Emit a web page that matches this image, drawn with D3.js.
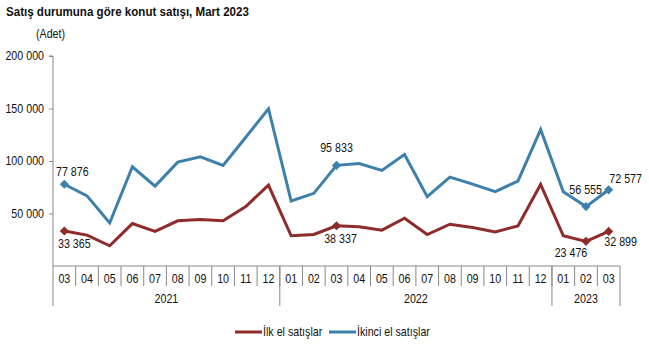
<!DOCTYPE html>
<html><head><meta charset="utf-8">
<script src="https://cdn.jsdelivr.net/npm/d3@7"></script>
<style>body{margin:0;background:#fff;} text{font-family:"Liberation Sans",Arial,sans-serif;}</style>
</head><body>
<svg id="c" width="649" height="345"></svg>
<script>
const months = ["03","04","05","06","07","08","09","10","11","12","01","02","03","04","05","06","07","08","09","10","11","12","01","02","03"];
const years = [{label:"2021", n:10},{label:"2022", n:12},{label:"2023", n:3}];
const ilkEl = [33365,29400,19300,40400,32900,43000,44200,43000,56600,77100,28800,30000,38337,37300,34100,45500,30000,39800,36700,32500,38200,77700,28800,23476,32899];
const ikinciEl = [77876,66800,41000,94500,76100,98900,104000,95700,122600,149800,61900,69200,95833,97600,91000,106200,66000,84700,78000,70800,80900,129900,70800,56555,72577];
const yTicks = [50000,100000,150000,200000];
const labeledIdx = [0,12,23,24];
const ilkLabels = [{i:0,dx:10,dy:17,anchor:"middle"},{i:12,dx:4,dy:17,anchor:"middle"},{i:23,dx:-15,dy:16,anchor:"middle"},{i:24,dx:12,dy:15,anchor:"middle"}];
const ikinciLabels = [{i:0,dx:8,dy:-8,anchor:"middle"},{i:12,dx:0,dy:-13,anchor:"middle"},{i:23,dx:16,dy:-13,anchor:"end"},{i:24,dx:17,dy:-7,anchor:"middle"}];
const fmt = v => d3.format(",")(v).replace(/,/g," ");

const svg = d3.select("#c");
const L = 53, R = 620, T = 56, B = 266;
const x = d3.scaleBand().domain(d3.range(months.length)).range([L,R]);
const y = d3.scaleLinear().domain([0,200000]).range([B,T]);
const red = "#8E2B2B", blue = "#3D80AB";
const SX = 0.89;

function txt(parent, px, py, s, size, anchor, weight){
  return parent.append("text").attr("transform",`translate(${px},${py}) scale(${SX},1)`)
    .attr("text-anchor",anchor||"start").attr("font-size",size).attr("font-weight",weight||"normal").attr("fill","#111").text(s);
}

txt(svg,6,16,"Satış durumuna göre konut satışı, Mart 2023",13,"start","bold");
txt(svg,36,38,"(Adet)",12);

// y axis
const ya = svg.append("g").attr("transform",`translate(${L},0)`).call(d3.axisLeft(y).tickValues(yTicks).tickSize(4).tickFormat(""));
ya.select(".domain").attr("stroke","#888").attr("d",`M-4,${T}H0V${B}`);
ya.selectAll(".tick line").attr("stroke","#888");
yTicks.forEach(v=> txt(svg, 44, y(v)+4, fmt(v), 12, "end"));

// category axis
const g = svg.append("g");
g.append("line").attr("x1",L).attr("x2",R).attr("y1",B).attr("y2",B).attr("stroke","#888");
months.forEach((m,i)=>{
  txt(g, x(i)+x.bandwidth()/2, 283, m, 12, "middle");
  if(i>0) g.append("line").attr("x1",x(i)).attr("x2",x(i)).attr("y1",B).attr("y2",286).attr("stroke","#888");
});
let acc = 0;
const bounds = [0];
years.forEach(yr=>{
  const x0 = x(acc), x1 = acc+yr.n < months.length ? x(acc+yr.n) : R;
  txt(g, (x0+x1)/2, 303, yr.label, 12, "middle");
  acc += yr.n; bounds.push(acc);
});
bounds.forEach(b=>{
  const xx = b < months.length ? x(b) : R;
  g.append("line").attr("x1",xx).attr("x2",xx).attr("y1",B).attr("y2",306).attr("stroke","#888");
});

const cx = i => x(i)+x.bandwidth()/2;
const line = d3.line().x((d,i)=>cx(i)).y(d=>y(d));
[[ikinciEl,blue,ikinciLabels],[ilkEl,red,ilkLabels]].forEach(([data,col,labs])=>{
  svg.append("path").datum(data).attr("d",line).attr("fill","none").attr("stroke",col).attr("stroke-width",3).attr("stroke-linejoin","miter");
  labeledIdx.forEach(i=>{
    svg.append("path").attr("d",d3.symbol(d3.symbolSquare,42)()).attr("transform",`translate(${cx(i)},${y(data[i])}) rotate(45)`).attr("fill",col);
  });
  labs.forEach(l=> txt(svg, cx(l.i)+l.dx, y(data[l.i])+l.dy, fmt(data[l.i]), 12, l.anchor));
});

// legend
const lg = svg.append("g");
lg.append("line").attr("x1",235).attr("x2",262).attr("y1",332).attr("y2",332).attr("stroke",red).attr("stroke-width",3);
txt(lg,263,336,"İlk el satışlar",12);
lg.append("line").attr("x1",329).attr("x2",356).attr("y1",332).attr("y2",332).attr("stroke",blue).attr("stroke-width",3);
txt(lg,357,336,"İkinci el satışlar",12);
</script>
</body></html>
